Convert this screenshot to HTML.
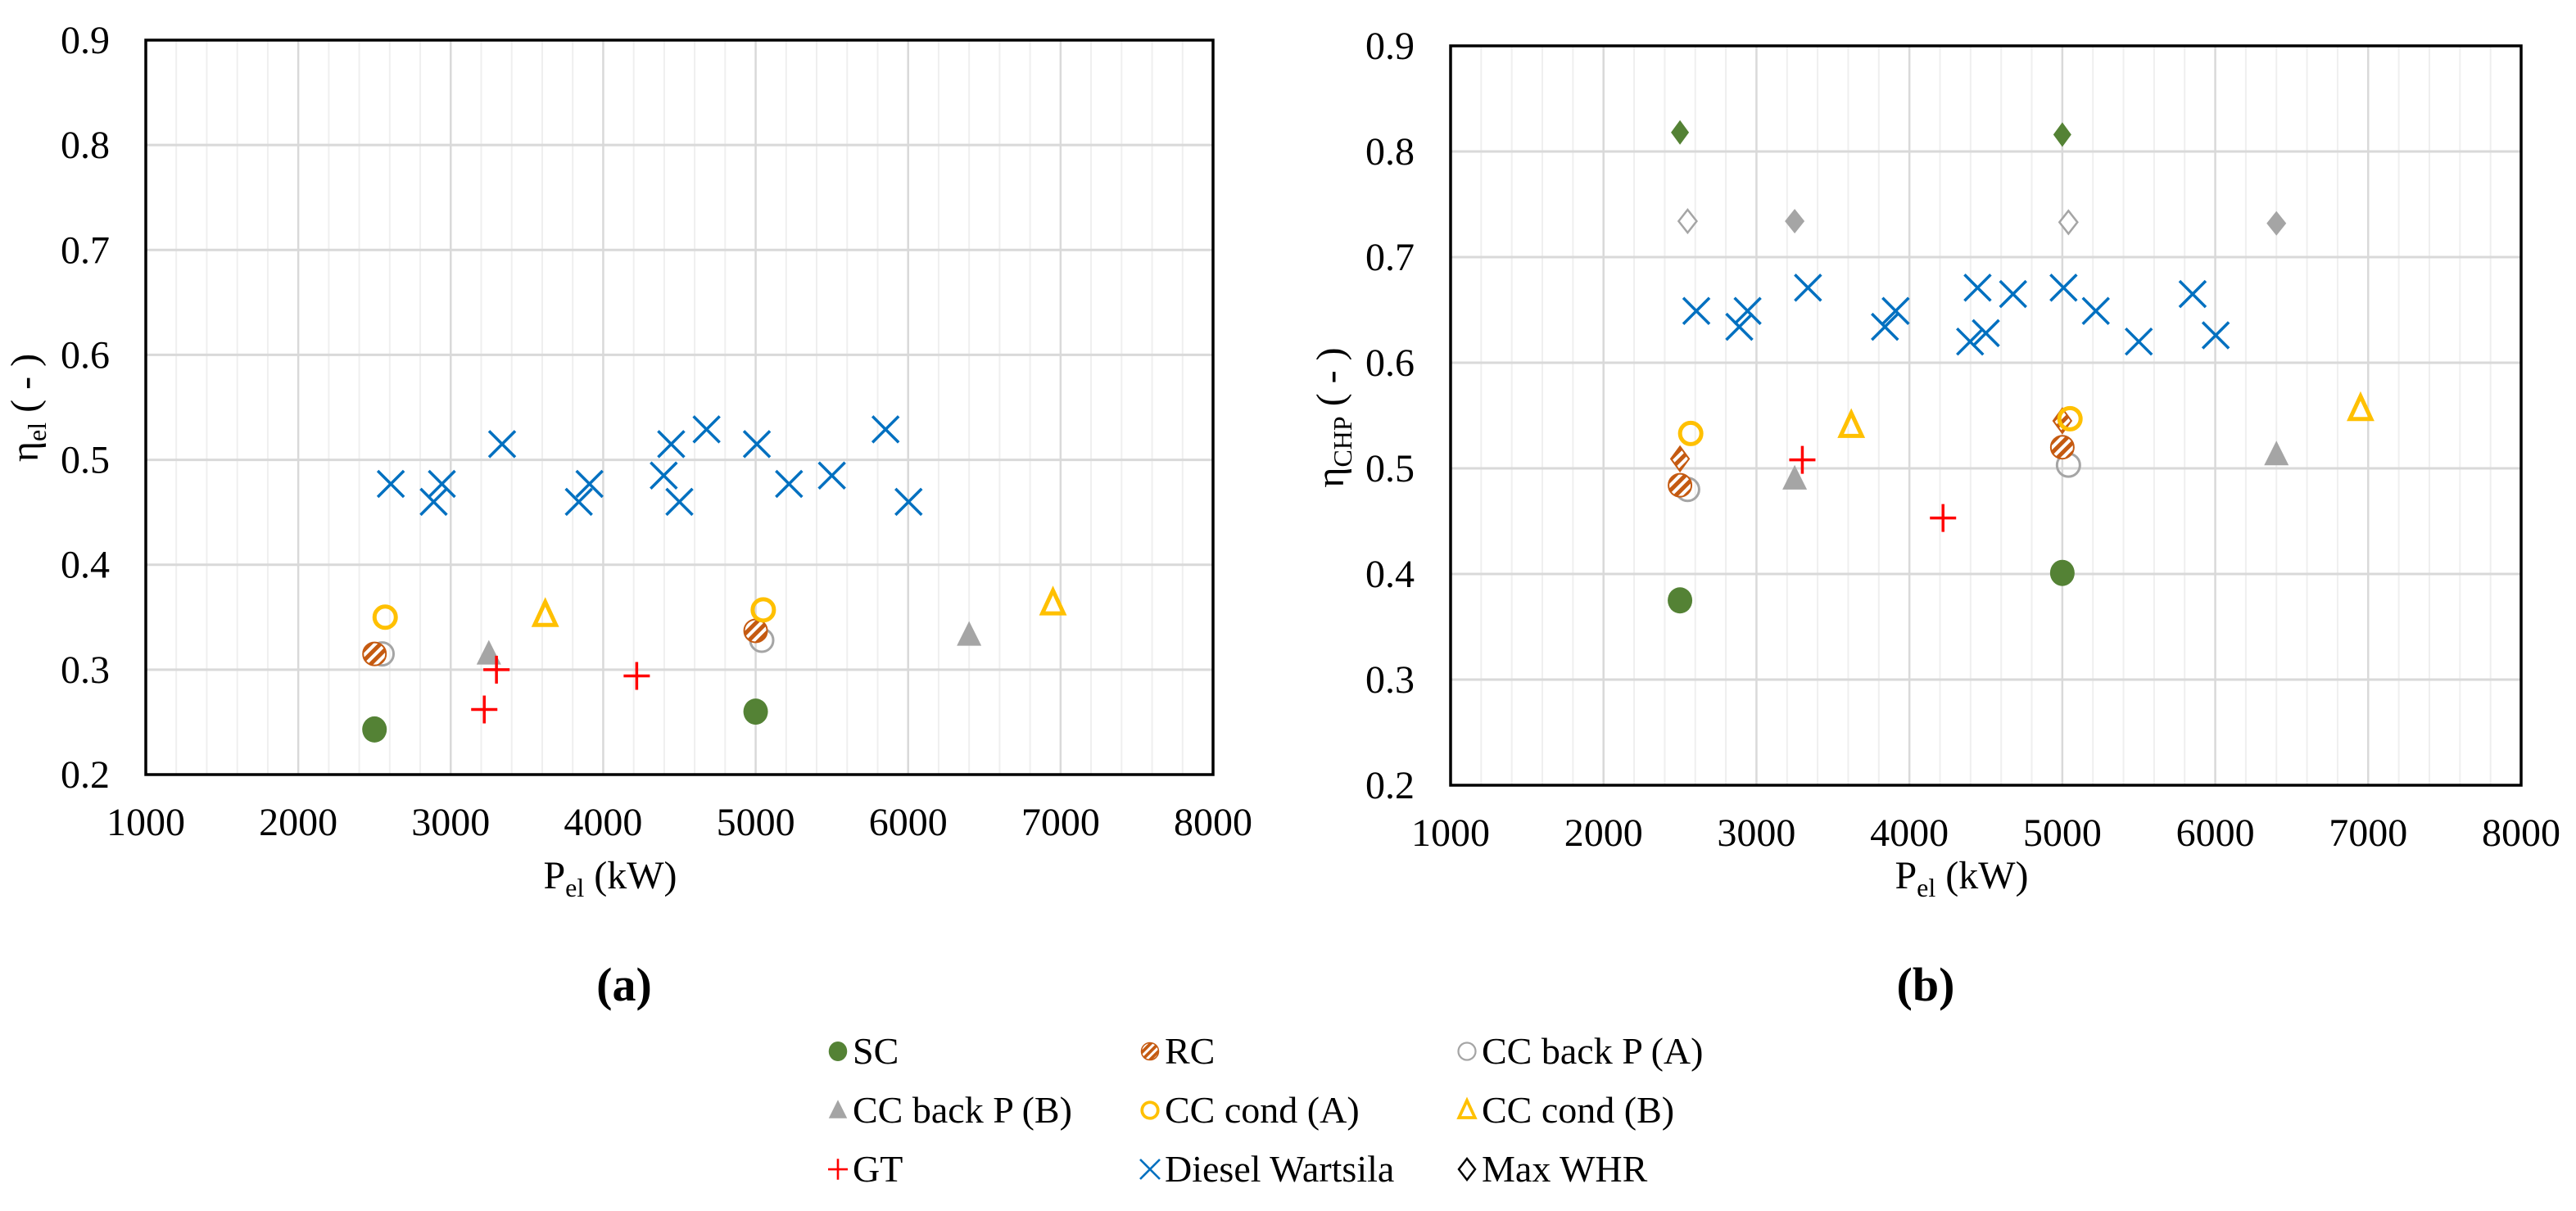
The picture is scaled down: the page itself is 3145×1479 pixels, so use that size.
<!DOCTYPE html>
<html><head><meta charset="utf-8"><style>
html,body{margin:0;padding:0;background:#fff}
svg{display:block}
svg text{font-family:"Liberation Serif","Times New Roman","DejaVu Serif",serif;fill:#000}
</style></head><body>
<svg id="svg" width="3145" height="1479" viewBox="0 0 3145 1479" xmlns="http://www.w3.org/2000/svg">
<defs>
<pattern id="hatch" patternUnits="userSpaceOnUse" width="9" height="9" patternTransform="rotate(45)">
<rect width="9" height="9" fill="#fff"/><rect width="5" height="9" fill="#C55A11"/>
</pattern>
</defs>
<g id="chartA"></g>
<g id="chartB"></g>
<text x="762" y="1222" font-size="58" font-weight="bold" text-anchor="middle">(a)</text>
<text x="2351" y="1222" font-size="58" font-weight="bold" text-anchor="middle">(b)</text>
<g id="legend"></g>
</svg>
<script>
const xTicks=[1000,2000,3000,4000,5000,6000,7000,8000];
const yTicks=[0.2,0.3,0.4,0.5,0.6,0.7,0.8,0.9];
const dieselX=[2607,2888,2942,3337,3840,3910,4397,4446,4500,4678,5008,5219,5500,5852,6003];
const dieselElY=[0.477,0.46,0.477,0.515,0.46,0.477,0.485,0.515,0.46,0.529,0.515,0.477,0.485,0.529,0.46];
const dieselChpY=[0.649,0.634,0.649,0.671,0.634,0.649,0.62,0.671,0.628,0.665,0.671,0.649,0.62,0.665,0.626];
const scX=[2500,5000];const scElY=[0.243,0.26];const scChpY=[0.375,0.401];
const rcX=[2500,5000];const rcElY=[0.315,0.337];const rcChpY=[0.484,0.52];
const rcMaxY=[0.509,0.545];
const ccbaX=[2550,5040];const ccbaElY=[0.315,0.328];const ccbaChpY=[0.48,0.503];
const ccbbX=[3250,6400];const ccbbElY=[0.315,0.333];const ccbbChpY=[0.49,0.513];
const cccaX=[2570,5050];const cccaElY=[0.35,0.357];const cccaChpY=[0.533,0.547];
const cccbX=[3620,6950];const cccbElY=[0.352,0.363];const cccbChpY=[0.54,0.556];
const gtElX=[3220,3300,4220];const gtElY=[0.262,0.3,0.294];
const gtChpX=[3300,4220];const gtChpY=[0.508,0.453];
const maxScX=[2500,5000];const maxScY=[0.818,0.816];
const maxAX=[2550,5040];const maxAY=[0.734,0.733];
const maxBX=[3250,6400];const maxBY=[0.734,0.732];

const NS="http://www.w3.org/2000/svg";
function mk(tag,attrs,parent){const e=document.createElementNS(NS,tag);for(const k in attrs)e.setAttribute(k,attrs[k]);parent.appendChild(e);return e;}

function marker(g,type,cx,cy){
  let e;
  if(type==='sc'){e=mk('ellipse',{cx:cx,cy:cy,rx:15,ry:16,fill:'#548235'},g);}
  else if(type==='rc'){e=mk('circle',{cx:cx,cy:cy,r:14,fill:'url(#hatch)',stroke:'#C55A11','stroke-width':2},g);}
  else if(type==='ccba'){e=mk('circle',{cx:cx,cy:cy,r:14,fill:'none',stroke:'#A5A5A5','stroke-width':3},g);}
  else if(type==='ccbb'){e=mk('polygon',{points:`${cx},${cy-17} ${cx+15},${cy+13} ${cx-15},${cy+13}`,fill:'#A5A5A5'},g);}
  else if(type==='ccca'){e=mk('circle',{cx:cx,cy:cy,r:13,fill:'none',stroke:'#FFC000','stroke-width':5},g);}
  else if(type==='cccb'){e=mk('polygon',{points:`${cx},${cy-16} ${cx+13},${cy+12} ${cx-13},${cy+12}`,fill:'none',stroke:'#FFC000','stroke-width':5},g);}
  else if(type==='gt'){e=mk('path',{d:`M${cx-16},${cy}H${cx+16}M${cx},${cy-17}V${cy+17}`,stroke:'#FF0000','stroke-width':3.5,fill:'none'},g);}
  else if(type==='diesel'){e=mk('path',{d:`M${cx-16},${cy-16}L${cx+16},${cy+16}M${cx+16},${cy-16}L${cx-16},${cy+16}`,stroke:'#0070C0','stroke-width':3.5,fill:'none'},g);}
  else if(type==='maxsc'){e=mk('polygon',{points:`${cx},${cy-15} ${cx+11},${cy} ${cx},${cy+15} ${cx-11},${cy}`,fill:'#548235'},g);}
  else if(type==='maxa'){e=mk('polygon',{points:`${cx},${cy-14} ${cx+11},${cy} ${cx},${cy+14} ${cx-11},${cy}`,fill:'#fff',stroke:'#A5A5A5','stroke-width':2.5},g);}
  else if(type==='maxb'){e=mk('polygon',{points:`${cx},${cy-15} ${cx+12},${cy} ${cx},${cy+15} ${cx-12},${cy}`,fill:'#A5A5A5'},g);}
  else if(type==='rcmax'){e=mk('polygon',{points:`${cx},${cy-15} ${cx+11},${cy} ${cx},${cy+15} ${cx-11},${cy}`,fill:'url(#hatch)',stroke:'#C55A11','stroke-width':2},g);}
  else if(type==='legdia'){e=mk('polygon',{points:`${cx},${cy-13} ${cx+10},${cy} ${cx},${cy+13} ${cx-10},${cy}`,fill:'#fff',stroke:'#000','stroke-width':2.5},g);}
  return e;
}

function chart(gid,L,R,T,B,ytitleHTML,ytx,yty,xtx,series){
  const g=document.getElementById(gid);
  const sx=v=>L+(v-1000)/7000*(R-L);
  const sy=v=>B-(v-0.2)/0.7*(B-T);
  for(let v=1200;v<8000;v+=200){
    if(v%1000===0)continue;
    const l=mk('line',{x1:sx(v),x2:sx(v),y1:T,y2:B,stroke:'#efefef','stroke-width':2},g);
    
    
  }
  xTicks.forEach(v=>{
    if(v>1000&&v<8000){const l=mk('line',{x1:sx(v),x2:sx(v),y1:T,y2:B,stroke:'#d9d9d9','stroke-width':2.5},g);
    
    }
    const t=mk('text',{x:sx(v),y:B+74,'font-size':48,'text-anchor':'middle'},g);t.textContent=v;
    
    
  });
  yTicks.forEach(v=>{
    if(v>0.25&&v<0.85){const l=mk('line',{x1:L,x2:R,y1:sy(v),y2:sy(v),stroke:'#d9d9d9','stroke-width':3},g);
    
    }
    const t=mk('text',{x:L-44,y:sy(v)+16,'font-size':48,'text-anchor':'end'},g);t.textContent=v.toFixed(1);
    
    
  });
  const fr=mk('rect',{x:L,y:T,width:R-L,height:B-T,fill:'none',stroke:'#000','stroke-width':3.5},g);
  
  
  const xt=mk('text',{x:xtx,y:1085,'font-size':48,'text-anchor':'middle'},g);
  xt.innerHTML='P<tspan font-size="32" dy="10">el</tspan><tspan dy="-10"> (kW)</tspan>';
  
  
  const yt=mk('text',{x:0,y:0,'font-size':48,'text-anchor':'middle',transform:`translate(${ytx},${yty}) rotate(-90)`},g);
  yt.innerHTML=ytitleHTML;
  
  
  series.forEach(s=>{
    s.x.forEach((xv,i)=>{
      const m=marker(g,s.type,sx(xv),sy(s.y[i]));
      
      
    });
  });
}

chart('chartA',178,1481,49,946,'η<tspan font-size="32" dy="10">el</tspan><tspan dy="-10"> ( - )</tspan>',46,498,745,[
 {type:'diesel',name:'diesel',x:dieselX,y:dieselElY},
 {type:'ccba',name:'cc-back-p-a',x:ccbaX,y:ccbaElY},
 {type:'rc',name:'rc',x:rcX,y:rcElY},
 {type:'ccbb',name:'cc-back-p-b',x:ccbbX,y:ccbbElY},
 {type:'ccca',name:'cc-cond-a',x:cccaX,y:cccaElY},
 {type:'cccb',name:'cc-cond-b',x:cccbX,y:cccbElY},
 {type:'gt',name:'gt',x:gtElX,y:gtElY},
 {type:'sc',name:'sc',x:scX,y:scElY}
]);
chart('chartB',1771,3078,56,959,'η<tspan font-size="32" dy="10">CHP</tspan><tspan dy="-10"> ( - )</tspan>',1640,510,2395,[
 {type:'diesel',name:'diesel',x:dieselX,y:dieselChpY},
 {type:'maxsc',name:'sc-max-whr',x:maxScX,y:maxScY},
 {type:'maxa',name:'cc-back-p-a-max-whr',x:maxAX,y:maxAY},
 {type:'maxb',name:'cc-back-p-b-max-whr',x:maxBX,y:maxBY},
 {type:'ccba',name:'cc-back-p-a',x:ccbaX,y:ccbaChpY},
 {type:'rc',name:'rc',x:rcX,y:rcChpY},
 {type:'rcmax',name:'rc-max-whr',x:rcX,y:rcMaxY},
 {type:'ccbb',name:'cc-back-p-b',x:ccbbX,y:ccbbChpY},
 {type:'ccca',name:'cc-cond-a',x:cccaX,y:cccaChpY},
 {type:'cccb',name:'cc-cond-b',x:cccbX,y:cccbChpY},
 {type:'gt',name:'gt',x:gtChpX,y:gtChpY},
 {type:'sc',name:'sc',x:scX,y:scChpY}
]);

const legendLabels=['SC','RC','CC back P (A)','CC back P (B)','CC cond (A)','CC cond (B)','GT','Diesel Wartsila','Max WHR'];
const legendTypes=['sc','rc','ccba','ccbb','ccca','cccb','gt','diesel','legdia'];
const lg=document.getElementById('legend');
const colX=[1023,1404,1791],rowY=[1284,1356,1428];
legendLabels.forEach((lab,i)=>{
  const c=i%3,r=Math.floor(i/3);
  const g=mk('g',{},lg);
  
  
  const m=marker(g,legendTypes[i],colX[c],rowY[r]);
  if(legendTypes[i]!=='legdia')m.setAttribute('transform',`translate(${colX[c]},${rowY[r]}) scale(0.75) translate(${-colX[c]},${-rowY[r]})`);
  
  
  const t=mk('text',{x:colX[c]+18,y:rowY[r]+15,'font-size':46},g);
  t.textContent=lab;
  
  
});
</script>
</body></html>
